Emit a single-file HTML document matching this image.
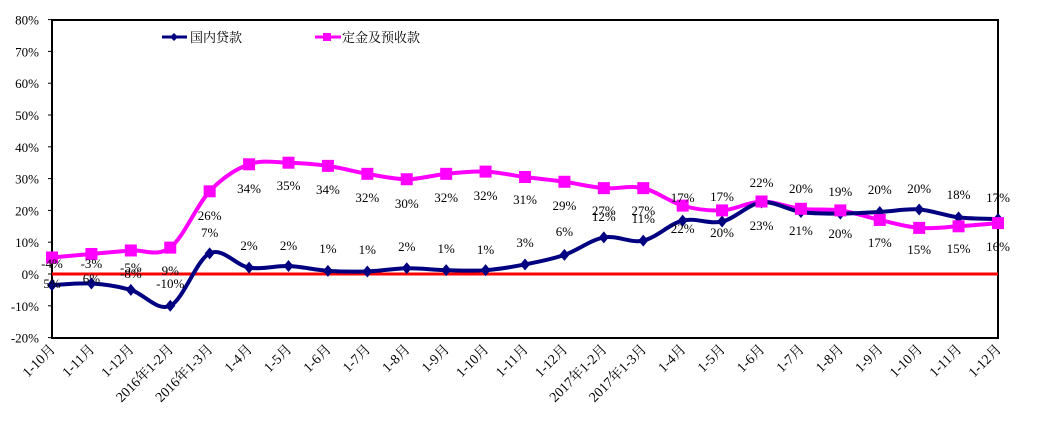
<!DOCTYPE html>
<html><head><meta charset="utf-8"><style>
html,body{margin:0;padding:0;background:#fff;}
svg{display:block;font-family:"Liberation Serif","Noto Serif CJK SC",serif;}
</style></head><body>
<svg id="s" width="1039" height="423" xmlns="http://www.w3.org/2000/svg"></svg>
<script>
const s=document.getElementById('s');
const X0=52,X1=998,YT=20,YB=338;
const dx=(X1-X0)/24;
const y=v=>274-v*3.18;
const blue=[-3.5,-3,-5,-10,6.5,2,2.5,1,0.8,1.8,1.2,1.2,3,6,11.5,10.5,16.8,16.5,22.5,19.5,19,19.5,20.3,17.8,17.3];
const mag=[5.2,6.3,7.4,8.3,26,34.5,35,34,31.5,29.8,31.5,32.2,30.5,29,27,27,21.5,20,22.8,20.5,20,17,14.5,15,16];
const cats=["1-10月","1-11月","1-12月","2016年1-2月","2016年1-3月","1-4月","1-5月","1-6月","1-7月","1-8月","1-9月","1-10月","1-11月","1-12月","2017年1-2月","2017年1-3月","1-4月","1-5月","1-6月","1-7月","1-8月","1-9月","1-10月","1-11月","1-12月"];
const L=[["-4%",263,"5%",283],["-3%",263,"6%",278],["-5%",267,"-8%",273],["9%",270,"-10%",283],["26%",215,"7%",232],["34%",188,"2%",245],["35%",185,"2%",245],["34%",189,"1%",248],["32%",197,"1%",249],["30%",203,"2%",246],["32%",197,"1%",248],["32%",195,"1%",249],["31%",199,"3%",242],["29%",205,"6%",231],["27%",210,"12%",216],["27%",210,"11%",218],["17%",197,"22%",228],["17%",196,"20%",232],["22%",182,"23%",225],["20%",188,"21%",230],["19%",191,"20%",233],["20%",189,"17%",242],["20%",188,"15%",249],["18%",194,"15%",248],["17%",197,"16%",246]];
let h='';
h+=`<rect x="${X0}" y="${YT}" width="${X1-X0}" height="${YB-YT}" fill="none" stroke="#000" stroke-width="2"/>`;
for(let v=-20;v<=80;v+=10){const yy=y(v);h+=`<line x1="${X0-4}" x2="${X0}" y1="${yy}" y2="${yy}" stroke="#000"/>`;h+=`<text x="${X0-13}" y="${yy+5}" font-size="13" text-anchor="end">${v}%</text>`;}
h+=`<line x1="${X0}" x2="${X1}" y1="${y(0)}" y2="${y(0)}" stroke="#ff0000" stroke-width="3"/>`;
function path(d){const p=d.map((v,i)=>[X0+i*dx,y(v)]);let str=`M${p[0][0]},${p[0][1]}`;for(let i=0;i<p.length-1;i++){const a=p[Math.max(i-1,0)],b=p[i],c=p[i+1],e=p[Math.min(i+2,p.length-1)];const t=1/6;str+=` C${b[0]+(c[0]-a[0])*t},${b[1]+(c[1]-a[1])*t} ${c[0]-(e[0]-b[0])*t},${c[1]-(e[1]-b[1])*t} ${c[0]},${c[1]}`;}return str;}
h+=`<path d="${path(mag)}" fill="none" stroke="#ff00ff" stroke-width="4"/>`;
h+=`<path d="${path(blue)}" fill="none" stroke="#000080" stroke-width="4"/>`;
blue.forEach((v,i)=>{const cx=X0+i*dx,cy=y(v);h+=`<polygon points="${cx},${cy-6} ${cx+5},${cy} ${cx},${cy+6} ${cx-5},${cy}" fill="#000080"/>`;});
mag.forEach((v,i)=>{const cx=X0+i*dx,cy=y(v);h+=`<rect x="${cx-6}" y="${cy-6}" width="12" height="12" fill="#ff00ff"/>`;});
L.forEach((l,i)=>{const cx=X0+i*dx;h+=`<text x="${cx}" y="${l[1]+5}" font-size="13" text-anchor="middle">${l[0]}</text><text x="${cx}" y="${l[3]+5}" font-size="13" text-anchor="middle">${l[2]}</text>`;});
cats.forEach((c,i)=>{const cx=X0+i*dx+4;h+=`<text transform="translate(${cx},350) rotate(-45)" font-size="14" text-anchor="end">${c}</text>`;});
h+=`<line x1="162" x2="187" y1="37" y2="37" stroke="#000080" stroke-width="3"/><polygon points="174,33 178,37 174,41 170,37" fill="#000080"/><text x="190" y="42" font-size="13">国内贷款</text>`;
h+=`<line x1="315" x2="341" y1="37" y2="37" stroke="#ff00ff" stroke-width="3"/><rect x="323" y="33" width="8" height="8" fill="#ff00ff"/><text x="342" y="42" font-size="13">定金及预收款</text>`;
s.innerHTML=h;
</script>
</body></html>
